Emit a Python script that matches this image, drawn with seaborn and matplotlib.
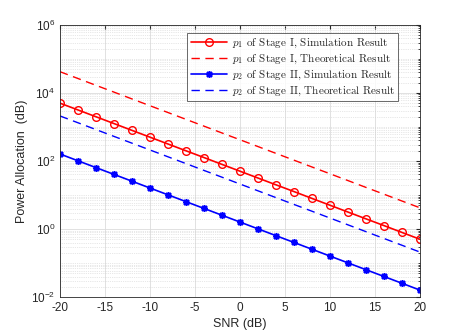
import matplotlib
matplotlib.use("Agg")
import matplotlib.pyplot as plt
import matplotlib.ticker as mticker
import seaborn as sns
import pandas as pd

snr = [-20, -18, -16, -14, -12, -10, -8, -6, -4, -2, 0, 2, 4, 6, 8, 10, 12, 14, 16, 18, 20]
p1_sim = [5000, 3155, 1991, 1256, 792, 500, 315, 199, 126, 79.2, 50, 31.5, 19.9, 12.6,
          7.92, 5.0, 3.15, 1.99, 1.26, 0.792, 0.5]
p1_theory = [42000, 26500, 16700, 10550, 6650, 4200, 2650, 1670, 1055, 665, 420, 265, 167,
             105.5, 66.5, 42, 26.5, 16.7, 10.55, 6.65, 4.2]
p2_sim = [160, 101, 63.7, 40.2, 25.4, 16, 10.1, 6.37, 4.02, 2.54, 1.6, 1.01, 0.637, 0.402,
          0.254, 0.16, 0.101, 0.0637, 0.0402, 0.0254, 0.016]
p2_theory = [2100, 1325, 836, 527, 333, 210, 132.5, 83.6, 52.7, 33.3, 21, 13.25, 8.36, 5.27,
             3.33, 2.1, 1.325, 0.836, 0.527, 0.333, 0.21]
labels = [r"$p_1$ of Stage I, Simulation Result",
          r"$p_1$ of Stage I, Theoretical Result",
          r"$p_2$ of Stage II, Simulation Result",
          r"$p_2$ of Stage II, Theoretical Result"]

sns.set_style("white")
plt.rcParams['font.family'] = ['Liberation Sans', 'DejaVu Sans']
plt.rcParams['mathtext.fontset'] = 'cm'
plt.rcParams['axes.unicode_minus'] = False

df = pd.DataFrame({'snr': snr, 'p1s': p1_sim, 'p1t': p1_theory, 'p2s': p2_sim, 'p2t': p2_theory})

fig = plt.figure(figsize=(4.65, 3.36), dpi=100)
ax = fig.add_axes([0.129, 0.116, 0.774, 0.81])

sns.lineplot(data=df, x='snr', y='p1s', ax=ax, color='#ff0000', lw=1.2, marker='o',
             markersize=5.5, markerfacecolor='none', markeredgecolor='#ff0000', markeredgewidth=1.0,
             label=labels[0])
sns.lineplot(data=df, x='snr', y='p1t', ax=ax, color='#ff0000', lw=1.0, dashes=False,
             linestyle=(0, (6, 4)), label=labels[1])
sns.lineplot(data=df, x='snr', y='p2s', ax=ax, color='#0000ff', lw=1.2, marker=(8, 2, 0),
             markersize=5, markeredgecolor='#0000ff', markeredgewidth=1.1, label=labels[2])
sns.lineplot(data=df, x='snr', y='p2t', ax=ax, color='#0000ff', lw=1.0, dashes=False,
             linestyle=(0, (6, 4)), label=labels[3])

ax.set_yscale('log')
ax.set_xlim(-20, 20)
ax.set_ylim(1e-2, 1e6)
ax.set_xticks([-20, -15, -10, -5, 0, 5, 10, 15, 20])
ax.yaxis.set_major_locator(mticker.FixedLocator([1e-2, 1e0, 1e2, 1e4, 1e6]))
ax.yaxis.set_minor_locator(mticker.LogLocator(base=10, subs=range(1, 10), numticks=100))
ax.yaxis.set_major_formatter(mticker.LogFormatterMathtext())
ax.yaxis.set_minor_formatter(mticker.NullFormatter())

ax.grid(True, which='major', color='#dcdcdc', lw=0.6)
ax.grid(True, which='minor', axis='y', color='#d0d0d0', lw=0.5, linestyle=':')
ax.tick_params(which='both', direction='in', top=True, right=True, colors='#262626',
               labelsize=8.5, length=3)
ax.tick_params(which='minor', length=1.5)
for s in ax.spines.values():
    s.set_color('#262626')
    s.set_linewidth(0.6)

ax.set_xlabel('SNR (dB)', fontsize=9, color='#262626', labelpad=3)
ax.set_ylabel('Power Allocation  (dB)', fontsize=9, color='#262626', labelpad=2)

leg = ax.legend(loc='upper right', prop={'family': 'cmr10', 'size': 8},
                frameon=True, fancybox=False, edgecolor='#262626', handlelength=3.3,
                borderpad=0.3, labelspacing=0.25, handletextpad=0.4,
                bbox_to_anchor=(0.955, 0.99))
leg.get_frame().set_linewidth(0.6)

fig.savefig('out.png', dpi=100)
